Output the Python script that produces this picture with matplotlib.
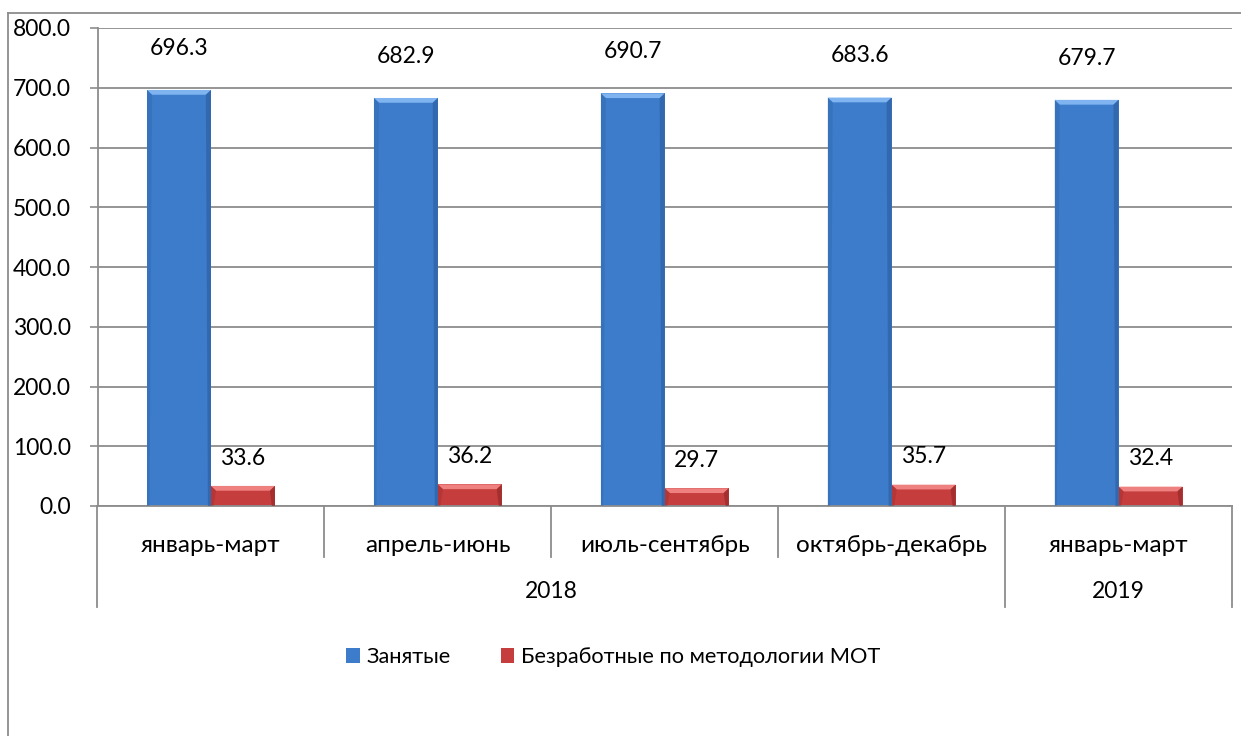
import numpy as np
import matplotlib
matplotlib.use("Agg")
import matplotlib.pyplot as plt
from matplotlib.patches import Polygon
from matplotlib.lines import Line2D

plt.rcParams['font.family'] = ['Lato', 'DejaVu Sans']

# data
periods = ['январь-март', 'апрель-июнь', 'июль-сентябрь', 'октябрь-декабрь', 'январь-март']
years = ['2018', '2019']
year_span = [4, 1]  # number of periods in each year
employed = [696.3, 682.9, 690.7, 683.6, 679.7]
unemployed = [33.6, 36.2, 29.7, 35.7, 32.4]
series_names = ['Занятые', 'Безработные по методологии МОТ']

blue = '#3D7CCB'
blue_light = '#7FB4F0'
blue_dark = '#2C5C9C'
red = '#C63D3D'
red_light = '#EE8080'
red_dark = '#8E2626'
grid_c = '#8C8C8C'
fs = 16.5

W, H = 1241, 736
fig = plt.figure(figsize=(W / 100, H / 100), dpi=100)
ax = fig.add_axes([97.5 / W, 1 - 506 / H, (1232 - 97.5) / W, (506 - 28) / H])

x = np.arange(len(periods))
bw = 0.282


def bevel(ax, rects, light, dark):
    # fake the excel 3d bevel with light top strip and darker sides
    for r in rects:
        x0, w, h = r.get_x(), r.get_width(), r.get_height()
        dx = w * 0.08
        dy = 8.0 if h > 20 else 6.0
        top = [(x0, h), (x0 + w, h), (x0 + w - dx, h - dy), (x0 + dx, h - dy)]
        ax.add_patch(Polygon(top, closed=True, fc=light, ec='none', zorder=3))
        right = [(x0 + w, h), (x0 + w, 0), (x0 + w - dx * 0.6, 0), (x0 + w - dx, h - dy)]
        ax.add_patch(Polygon(right, closed=True, fc=dark, ec='none', alpha=0.6, zorder=3))
        left = [(x0, h), (x0, 0), (x0 + dx * 0.5, 0), (x0 + dx, h - dy)]
        ax.add_patch(Polygon(left, closed=True, fc=dark, ec='none', alpha=0.3, zorder=3))


b1 = ax.bar(x - bw / 2, employed, bw, color=blue, zorder=2, label=series_names[0])
b2 = ax.bar(x + bw / 2, unemployed, bw, color=red, zorder=2, label=series_names[1])
bevel(ax, b1, blue_light, blue_dark)
bevel(ax, b2, red_light, red_dark)

for xi, v in zip(x, employed):
    ax.annotate(f'{v:.1f}', (xi - bw / 2, v), xytext=(0, 30), textcoords='offset points',
                ha='center', va='center', fontsize=fs)
for xi, v in zip(x, unemployed):
    ax.annotate(f'{v:.1f}', (xi + bw / 2, v), xytext=(0, 20), textcoords='offset points',
                ha='center', va='center', fontsize=fs)

ax.set_xlim(-0.5, len(periods) - 0.5)
ax.set_ylim(0, 800)
ax.set_yticks(np.arange(0, 801, 100))
ax.set_yticklabels([f'{t:.1f}' for t in np.arange(0, 801, 100)])
ax.tick_params(axis='y', length=6, width=1.2, color=grid_c, labelsize=fs, pad=13)
ax.set_xticks([])
ax.grid(axis='y', color=grid_c, lw=1.3, zorder=0)
for s in ['top', 'right']:
    ax.spines[s].set_visible(False)
for s in ['left', 'bottom']:
    ax.spines[s].set_color(grid_c)
    ax.spines[s].set_linewidth(1.3)

# hierarchical category axis
trans = ax.get_xaxis_transform()
row1, row2 = -0.082, -0.178
short_end, long_end = -0.107, -0.211
for xi, p in zip(x, periods):
    ax.text(xi, row1, p, transform=trans, ha='center', va='center', fontsize=fs + 1)
edges = np.arange(len(periods) + 1) - 0.5
year_edges = np.concatenate([[0], np.cumsum(year_span)]) - 0.5
for e in edges:
    end = long_end if e in year_edges else short_end
    ax.plot([e, e], [0, end], transform=trans, color=grid_c, lw=1.3, clip_on=False)
for i, yr in enumerate(years):
    mid = (year_edges[i] + year_edges[i + 1]) / 2
    ax.text(mid, row2, yr, transform=trans, ha='center', va='center', fontsize=fs)

# legend
leg = fig.legend(loc='center', bbox_to_anchor=(613 / W, 1 - 657 / H), ncol=2, frameon=False,
                 fontsize=fs - 0.8, handlelength=0.64, handleheight=0.64, handletextpad=0.28,
                 columnspacing=2.3)

# outer chart frame (only left and top visible)
fig.add_artist(Line2D([8 / W, 8 / W], [0, 1 - 13 / H], color=grid_c, lw=1.3))
fig.add_artist(Line2D([8 / W, 1], [1 - 13 / H, 1 - 13 / H], color=grid_c, lw=1.3))

fig.savefig('out.png', dpi=100)
